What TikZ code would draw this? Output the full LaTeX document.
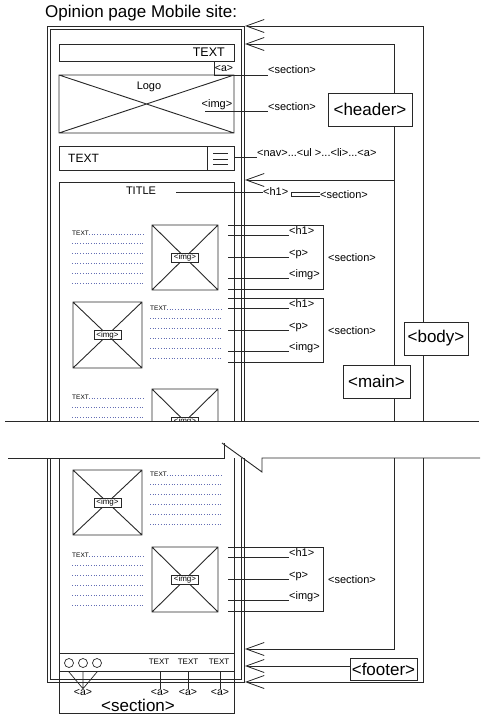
\documentclass[tikz,border=0pt]{standalone}
\usepackage{fontspec}
\setmainfont{Liberation Sans}
\usetikzlibrary{arrows.meta}
\definecolor{dotc}{RGB}{100,110,180}
\definecolor{lnc}{RGB}{40,40,40}
\tikzset{
  ln/.style={draw=lnc, line width=0.9pt},
  thinln/.style={draw=lnc, line width=0.7pt},
  dotl/.style={draw=dotc, dotted, line width=0.7pt},
  barb/.style={-{Straight Barb[length=18pt,width=13pt,line width=0.8pt]}},
  bigl/.style={draw=lnc, line width=0.9pt, fill=white, font=\fontsize{17}{19}\selectfont, inner sep=0pt},
  lbl/.style={font=\fontsize{11}{12}\selectfont, inner sep=0pt},
  albl/.style={font=\fontsize{10.5}{12}\selectfont, inner sep=0pt},
  tag/.style={draw=lnc, line width=0.9pt, fill=white, font=\fontsize{8}{9}\selectfont, inner sep=0pt, minimum width=27pt, minimum height=9pt},
  tinytxt/.style={font=\fontsize{6.5}{7}\selectfont, inner sep=0pt, anchor=base west},
}
\newcommand\imgbx[5]{%
  \draw[ln] (#1,#2) rectangle (#3,#4) (#1,#2) -- (#3,#4) (#1,#4) -- (#3,#2);
  \node[tag] (#5) at ({(#1+#3)/2},{(#2+#4)/2}) {<img>};}
\newcommand\txtblk[3]{%
  \node[tinytxt] at (#1,#3+2) {TEXT};
  \draw[dotl] (#1+17,#3+1) -- (#2,#3+1);
  \foreach \myoff in {10,20,30,40,50} {\draw[dotl] (#1,#3+\myoff) -- (#2,#3+\myoff);}}
\newcommand\secann[2]{%
  \draw[ln] (228,#1) -- (323,#1) -- (323,#1+64) -- (228,#1+64);
  \foreach \myoff/\mytag in {10/{<h1>},32/{<p>},53/{<img>}} {
    \draw[ln] (228,#1+\myoff) -- (289,#1+\myoff);
    \node[lbl, anchor=base west] at (289,#1+\myoff-1) {\mytag};}
  \node[lbl, anchor=west] (#2) at (328,#1+33) {<section>};}
\begin{document}
\begin{tikzpicture}[x=1pt,y=-1pt]
\useasboundingbox (0,0) rectangle (497,726);
% title
\node[font=\fontsize{17}{19}\selectfont, inner sep=0pt, anchor=base west] (ttl) at (45,17) {Opinion page Mobile site:};

% ===== top half =====
\begin{scope}
\clip (0,0) rectangle (497,421);
% phone frame
\draw[ln] (47,421) -- (47,26) -- (244,26) -- (244,421);
\draw[ln] (50,421) -- (50,29) -- (241,29) -- (241,421);
% header TEXT box
\draw[ln] (59,44) rectangle (234,61);
\node[font=\fontsize{12.5}{14}\selectfont, anchor=east, inner sep=0pt] (htxt) at (225,52) {TEXT};
\draw[ln] (214,61) -- (214,75) -- (268,75);
\node[albl] (ha) at (224,68) {<a>};
\node[lbl, anchor=west] (s1) at (268,70) {<section>};
% logo
\draw[ln] (59,75) rectangle (234,133) (59,75) -- (234,133) (59,133) -- (234,75);
\node[font=\fontsize{11}{13}\selectfont, inner sep=0pt] (logo) at (149,87) {Logo};
\node[lbl] (limg) at (217,105) {<img>};
\draw[ln] (205,111) -- (268,111);
\node[lbl, anchor=west] (s2) at (268,107) {<section>};
% nav
\draw[ln] (59,146) rectangle (234,170) (207,146) -- (207,170);
\draw[thinln] (213,153) -- (228,153) (213,159) -- (228,159) (213,164) -- (228,164);
\node[font=\fontsize{12}{14}\selectfont, anchor=west, inner sep=0pt] (ntxt) at (68,158) {TEXT};
\draw[ln] (234,157) -- (257,157);
\node[lbl, anchor=west] (nav) at (257,153) {<nav>...<ul >...<li>...<a>};
% main content
\draw[ln] (59,421) -- (59,182) -- (234,182) -- (234,421);
\node[font=\fontsize{11}{13}\selectfont, inner sep=0pt] (title) at (141,191) {TITLE};
\draw[ln] (176,192) -- (263,192);
\node[lbl, anchor=west] (h1) at (263,192) {<h1>};
\draw[thinln] (320,192) -- (291,192) -- (291,196) -- (320,196);
\node[lbl, anchor=west] (s3) at (320,195) {<section>};
% row 1
\txtblk{72}{144}{233}
\imgbx{152}{225}{218}{290}{i1}
\secann{225}{s4}
% row 2
\imgbx{73}{302}{142}{368}{i2}
\txtblk{150}{222}{308}
\secann{298}{s5}
% row 3 (cut)
\txtblk{72}{144}{397}
\imgbx{152}{389}{218}{454}{i3}
% right structure
\draw[ln, barb] (423.5,421) -- (423.5,26) -- (245,26);
\draw[ln, barb] (394,421) -- (394,44) -- (245,44);
\draw[ln, barb] (394,180) -- (245,180);
\end{scope}

% break lines
\draw[ln] (5,421) -- (479,421);
\draw[ln] (8,458) -- (224,458) -- (224,443);
\draw[ln] (222,443) -- (262,472) -- (262,458) -- (480,458);

% ===== bottom half =====
\draw[ln] (47,458) -- (47,682) -- (244,682) -- (244,458);
\draw[ln] (50,458) -- (50,679) -- (241,679) -- (241,458);
\draw[ln] (59,458) -- (59,713) -- (234,713) -- (234,458);
% row A
\imgbx{73}{470}{142}{535}{i4}
\txtblk{150}{222}{474}
% row B
\txtblk{72}{144}{555}
\imgbx{152}{547}{218}{612}{i5}
\secann{547}{s6}
% footer
\draw[ln] (59,653) rectangle (234,671);
\draw[thinln] (69,663) circle (4.5) (83,663) circle (4.5) (97,663) circle (4.5);
\node[font=\fontsize{8}{9}\selectfont, inner sep=0pt] (ft1) at (159,662) {TEXT};
\node[font=\fontsize{8}{9}\selectfont, inner sep=0pt] (ft2) at (188,662) {TEXT};
\node[font=\fontsize{8}{9}\selectfont, inner sep=0pt] (ft3) at (219,662) {TEXT};
\node[albl] (a1) at (83,692) {<a>};
\node[albl] (a2) at (160,692) {<a>};
\node[albl] (a3) at (188,692) {<a>};
\node[albl] (a4) at (220,692) {<a>};
\draw[thinln] (69,672) -- (a1.north) (83,672) -- (a1.north) (97,672) -- (a1.north);
\draw[thinln] (160,671) -- (a2.north) (188,671) -- (a3.north) (220,671) -- (a4.north);
\node[font=\fontsize{17}{19}\selectfont, inner sep=0pt] (fsec) at (138,705) {<section>};
% right structure bottom
\draw[ln, barb] (423.5,458) -- (423.5,682) -- (245,682);
\draw[ln, barb] (394,458) -- (394,649) -- (245,649);

% big labels
\node[bigl, minimum width=84pt, minimum height=33pt] (hdr) at (370,109.5) {<header>};
\node[bigl, minimum width=64pt, minimum height=33pt] (bdy) at (436,338.5) {<body>};
\node[bigl, minimum width=67pt, minimum height=33pt] (mn) at (376.5,381.5) {<main>};
\node[bigl, minimum width=67pt, minimum height=22pt] (ftr) at (383.5,669) {<footer>};
\coordinate (fa) at (245,666);
\draw[ln, barb] (ftr.west |- fa) -- (fa);
\end{tikzpicture}
\end{document}
